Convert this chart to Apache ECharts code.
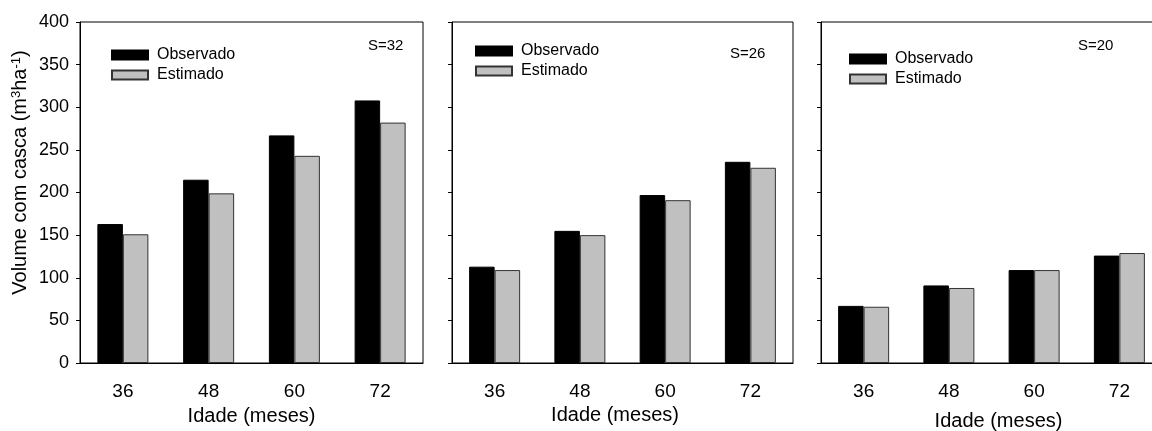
<!DOCTYPE html>
<html>
<head>
<meta charset="utf-8">
<script src="https://cdn.jsdelivr.net/npm/echarts@6/dist/echarts.min.js"></script>
<style>
html,body{margin:0;padding:0;background:#fff;}
#chart{width:1152px;height:431px;}
</style>
</head>
<body>
<div id="chart"></div>
<script>
const categories = ['36', '48', '60', '72'];
const obsS32 = [163, 215, 267, 308];
const estS32 = [151, 199, 243, 282];
const obsS26 = [113, 155, 197, 236];
const estS26 = [109, 150, 191, 229];
const obsS20 = [67, 91, 109, 126];
const estS20 = [66, 88, 109, 129];
const panelLabels = ['S=32', 'S=26', 'S=20'];
const seriesNames = ['Observado', 'Estimado'];
const yMin = 0, yMax = 400, yStep = 50;
const xTitle = 'Idade (meses)';

const FONT = "'Liberation Sans', Arial, sans-serif";
const chart = echarts.init(document.getElementById('chart'), null, {renderer: 'canvas'});

const grids = [
  {left: 80, top: 22, width: 343, height: 341},
  {left: 452, top: 22, width: 341, height: 341},
  {left: 821, top: 22, width: 341, height: 341}
].map(g => Object.assign(g, {show: true, borderColor: '#000', borderWidth: 1, backgroundColor: 'transparent', containLabel: false, outerBoundsMode: 'none'}));

const xNameCfg = [
  {gap: 43, pad: [0, 0, 0, 0]},
  {gap: 41, pad: [0, 15, 0, 0]},
  {gap: 48, pad: [0, 0, 0, 14]}
];

const xAxes = [0, 1, 2].map(i => ({
  type: 'category', gridIndex: i, data: categories,
  name: xTitle, nameLocation: 'middle', nameGap: xNameCfg[i].gap,
  nameTextStyle: {fontFamily: FONT, fontSize: 20, color: '#000', padding: xNameCfg[i].pad},
  axisLine: {lineStyle: {color: '#000', width: 1}},
  axisTick: {alignWithLabel: true, length: 5, lineStyle: {color: '#000'}},
  axisLabel: {fontFamily: FONT, fontSize: 19, color: '#000', margin: 19},
  splitLine: {show: false}
}));

const yAxes = [0, 1, 2].map(i => ({
  type: 'value', gridIndex: i, min: yMin, max: yMax, interval: yStep,
  name: i === 0 ? 'Volume com casca (m{sup|3}ha{sup|-1})' : '',
  nameLocation: 'middle', nameGap: 50,
  nameTextStyle: {
    fontFamily: FONT, fontSize: 20, color: '#000', padding: [0, 0, 0, 40],
    rich: {sup: {fontFamily: FONT, fontSize: 13, color: '#000', verticalAlign: 'top', lineHeight: 12}}
  },
  axisLine: {show: true, lineStyle: {color: '#000', width: 1}},
  axisTick: {show: true, length: 4, lineStyle: {color: '#000'}},
  axisLabel: {show: i === 0, fontFamily: FONT, fontSize: 18, color: '#000', margin: 11},
  splitLine: {show: false}
}));

const data = [[obsS32, estS32], [obsS26, estS26], [obsS20, estS20]];
const series = [];
data.forEach((pair, i) => {
  series.push({
    name: seriesNames[0], type: 'bar', xAxisIndex: i, yAxisIndex: i, data: pair[0],
    barWidth: 25.5, barGap: '0%',
    itemStyle: {color: '#000', borderColor: '#000', borderWidth: 1}
  });
  series.push({
    name: seriesNames[1], type: 'bar', xAxisIndex: i, yAxisIndex: i, data: pair[1],
    barWidth: 25.5, barGap: '0%',
    itemStyle: {color: '#c0c0c0', borderColor: '#333', borderWidth: 1}
  });
});

const legendPos = [
  {left: 111, top: 47},
  {left: 475, top: 43},
  {left: 849, top: 51}
];
const legends = legendPos.map(p => ({
  left: p.left, top: p.top, orient: 'vertical', padding: 0,
  itemWidth: 36, itemHeight: 9, itemGap: 4,
  data: seriesNames, selectedMode: false,
  icon: 'rect',
  textStyle: {fontFamily: FONT, fontSize: 16, color: '#000', padding: [0, 0, 0, 4]}
}));

const labelPos = [
  {left: 368, top: 38},
  {left: 730, top: 46},
  {left: 1078, top: 38}
];
const titles = panelLabels.map((t, i) => ({
  text: t, left: labelPos[i].left, top: labelPos[i].top, padding: 0,
  textStyle: {fontFamily: FONT, fontSize: 15, fontWeight: 'normal', color: '#000'}
}));

chart.setOption({
  animation: false,
  backgroundColor: '#fff',
  title: titles,
  legend: legends,
  grid: grids,
  xAxis: xAxes,
  yAxis: yAxes,
  series: series
});
</script>
</body>
</html>
